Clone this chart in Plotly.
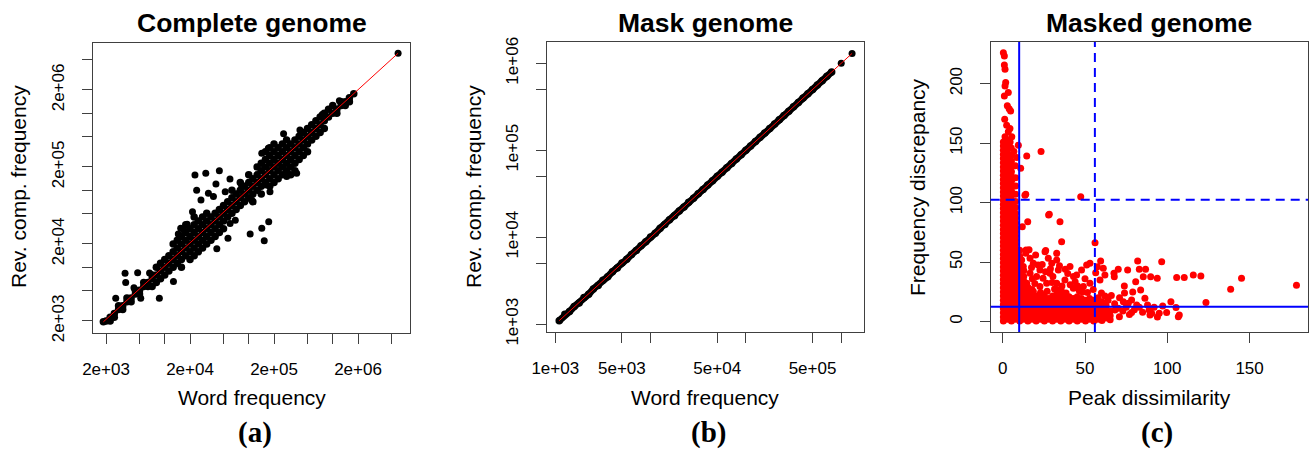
import plotly.graph_objects as go

W, H = 1311, 450

# ---------------- Panel (a): Complete genome (word freq vs rev. comp. freq) ----------------
a_cols_x = [1.86e3, 2.0e3, 2.24e3, 2.51e3, 2.82e3, 3.16e3, 3.55e3, 3.98e3, 4.47e3, 5.01e3, 5.62e3,
            6.31e3, 7.08e3, 7.94e3, 8.91e3,
            1.0e4, 1.12e4, 1.26e4, 1.41e4, 1.58e4, 1.78e4, 2.0e4, 2.24e4, 2.51e4, 2.82e4,
            3.16e4, 3.55e4, 3.98e4, 4.47e4, 5.01e4, 5.62e4, 6.31e4, 7.08e4, 7.94e4, 8.91e4,
            1.0e5, 1.12e5, 1.26e5, 1.41e5, 1.58e5, 1.78e5, 2.0e5, 2.24e5, 2.51e5, 2.82e5,
            3.16e5, 3.55e5, 3.98e5, 4.47e5, 5.01e5, 5.62e5, 6.31e5, 7.08e5, 7.94e5, 8.91e5,
            1.0e6, 1.12e6, 1.26e6, 1.41e6, 1.58e6, 1.78e6]
a_cols_y = [
    [1.95e3], [2.0e3], [2.24e3, 2.0e3], [2.51e3, 2.24e3], [2.82e3, 3.16e3], [3.16e3, 2.82e3],
    [3.55e3, 3.98e3], [3.98e3, 3.55e3], [4.47e3, 5.01e3], [5.01e3, 4.47e3], [5.62e3, 6.31e3],
    [6.31e3, 5.62e3], [5.62e3, 7.08e3, 7.94e3], [6.31e3, 7.94e3, 1.0e4], [7.08e3, 8.91e3, 1.12e4],
    [7.94e3, 1.0e4, 1.26e4], [8.91e3, 1.12e4, 1.41e4], [1.0e4, 1.26e4, 1.58e4, 2.0e4],
    [1.12e4, 1.41e4, 1.78e4, 2.24e4], [1.0e4, 1.26e4, 1.58e4, 2.0e4, 2.51e4],
    [1.41e4, 1.78e4, 2.24e4, 2.82e4, 3.55e4], [1.26e4, 1.58e4, 2.0e4, 2.51e4, 3.16e4],
    [1.41e4, 1.78e4, 2.24e4, 2.82e4, 3.55e4, 4.47e4], [1.58e4, 2.0e4, 2.51e4, 3.16e4, 3.98e4],
    [1.78e4, 2.24e4, 2.82e4, 3.55e4, 4.47e4], [2.0e4, 2.51e4, 3.16e4, 3.98e4, 5.01e4],
    [2.24e4, 2.82e4, 3.55e4, 4.47e4], [2.51e4, 3.16e4, 3.98e4, 5.01e4],
    [2.82e4, 3.55e4, 4.47e4, 5.62e4], [3.16e4, 3.98e4, 5.01e4, 6.31e4],
    [4.47e4, 5.62e4, 7.08e4], [5.01e4, 6.31e4, 7.94e4, 1.0e5], [5.62e4, 7.08e4, 8.91e4],
    [6.31e4, 7.94e4, 1.0e5, 1.26e5], [7.08e4, 8.91e4, 1.12e5],
    [7.94e4, 1.0e5, 1.26e5, 1.58e5], [7.08e4, 8.91e4, 1.12e5, 1.41e5],
    [1.0e5, 1.26e5, 1.58e5, 2.0e5], [8.91e4, 1.12e5, 1.41e5, 1.78e5, 2.24e5],
    [1.26e5, 1.58e5, 2.0e5, 2.51e5, 3.16e5], [1.12e5, 1.41e5, 1.78e5, 2.24e5, 2.82e5, 3.55e5],
    [1.26e5, 1.58e5, 2.0e5, 2.51e5, 3.16e5, 3.98e5], [1.41e5, 1.78e5, 2.24e5, 2.82e5, 3.55e5],
    [1.58e5, 2.0e5, 2.51e5, 3.16e5, 3.98e5], [1.78e5, 2.24e5, 2.82e5, 3.55e5, 4.47e5],
    [1.58e5, 2.0e5, 2.51e5, 3.16e5, 3.98e5], [1.78e5, 2.24e5, 2.82e5, 3.55e5, 4.47e5],
    [2.51e5, 3.16e5, 3.98e5, 5.01e5], [2.82e5, 3.55e5, 4.47e5, 5.62e5],
    [3.16e5, 3.98e5, 5.01e5, 6.31e5], [4.47e5, 5.62e5, 7.08e5], [5.01e5, 6.31e5, 7.94e5],
    [5.62e5, 7.08e5, 8.91e5], [6.31e5, 7.94e5, 1.0e6], [8.91e5, 1.12e6],
    [1.0e6, 1.26e6], [1.12e6, 1.0e6], [1.26e6, 1.41e6], [1.41e6, 1.26e6], [1.58e6, 1.41e6], [1.78e6],
]
a_out_x = [2.61e3, 3.37e3, 3.43e3, 4.76e3, 8.63e3, 1.27e4, 5.18e3, 2.29e4, 3.08e4, 4.47e4, 2.40e4,
           2.70e4, 3.31e4, 4.07e4, 5.25e4, 5.98e4, 3.8e4, 2.14e4, 1.04e5, 1.43e5, 1.53e5, 1.73e5,
           1.08e5, 1.62e5, 4.17e4, 6.92e4, 5.66e4, 1.71e5, 1.43e5, 4.07e5, 2.83e5, 3.72e5, 1.79e5,
           8.2e4, 1.55e4, 1.7e4, 1.45e4, 1.85e4, 6.0e4, 4.3e3, 6.6e3, 2.6e5, 7.5e5, 1.2e6, 6.0e6]
a_out_y = [3.94e3, 8.32e3, 6.3e3, 8.49e3, 3.94e3, 6.49e3, 3.94e3, 1.57e5, 1.66e5, 1.79e5, 1.0e5,
           7.45e4, 9.12e4, 1.2e5, 9.55e4, 1.4e5, 8.3e4, 5.25e4, 2.7e4, 3.2e4, 2.21e4, 3.9e4,
           7.46e4, 1.17e5, 1.74e4, 4.07e4, 2.37e4, 3.5e5, 3.01e5, 6.03e5, 1.5e5, 1.66e5, 9.55e4,
           1.17e5, 3.2e4, 3.0e4, 2.7e4, 3.6e4, 3.7e4, 5.4e3, 8.4e3, 5.4e5, 9.6e5, 1.45e6, 6.0e6]
a_line_x = [1.86e3, 6.0e6]
a_line_y = [1.95e3, 6.0e6]
a_tickvals = [2e3, 5e3, 1e4, 2e4, 5e4, 1e5, 2e5, 5e5, 1e6, 2e6, 5e6]
a_ticktext = ["2e+03", "", "", "2e+04", "", "", "2e+05", "", "", "2e+06", ""]

# ---------------- Panel (b): Mask genome ----------------
b_x = [1.1e3,
       1.26e3, 1.41e3, 1.58e3, 1.78e3, 2.0e3, 2.24e3, 2.51e3, 2.82e3, 3.16e3, 3.55e3, 3.98e3,
       4.47e3, 5.01e3, 5.62e3, 6.31e3, 7.08e3, 7.94e3, 8.91e3,
       1.0e4, 1.12e4, 1.26e4, 1.41e4, 1.58e4, 1.78e4, 2.0e4, 2.24e4, 2.51e4, 2.82e4, 3.16e4,
       3.55e4, 3.98e4, 4.47e4, 5.01e4, 5.62e4, 6.31e4, 7.08e4, 7.94e4, 8.91e4,
       1.0e5, 1.12e5, 1.26e5, 1.41e5, 1.58e5, 1.78e5, 2.0e5, 2.24e5, 2.51e5, 2.82e5, 3.16e5,
       3.55e5, 3.98e5, 4.47e5, 5.01e5, 5.62e5, 6.31e5, 7.08e5, 7.94e5]
b_y = [1.1e3,
       1.3e3, 1.4e3, 1.6e3, 1.76e3, 2.03e3, 2.21e3, 2.55e3, 2.79e3, 3.2e3, 3.52e3, 4.02e3,
       4.43e3, 5.05e3, 5.58e3, 6.35e3, 7.05e3, 7.98e3, 8.87e3,
       1.01e4, 1.11e4, 1.27e4, 1.4e4, 1.59e4, 1.77e4, 2.01e4, 2.23e4, 2.52e4, 2.81e4, 3.17e4,
       3.54e4, 3.99e4, 4.46e4, 5.02e4, 5.61e4, 6.32e4, 7.07e4, 7.95e4, 8.9e4,
       1.0e5, 1.12e5, 1.26e5, 1.41e5, 1.58e5, 1.78e5, 2.0e5, 2.24e5, 2.51e5, 2.82e5, 3.16e5,
       3.55e5, 3.98e5, 4.47e5, 5.01e5, 5.62e5, 6.31e5, 7.08e5, 7.94e5]
b_top_x = [1.0e6, 1.3e6]
b_top_y = [1.0e6, 1.3e6]
b_line = [1.1e3, 1.3e6]
b_tickvals = [1e3, 5e3, 1e4, 5e4, 1e5, 5e5, 1e6]
b_xticktext = ["1e+03", "5e+03", "", "5e+04", "", "5e+05", ""]
b_yticktext = ["1e+03", "", "1e+04", "", "1e+05", "", "1e+06"]

# ---------------- Panel (c): Masked genome ----------------
c_cols_x = [0.4, 2.8, 5.3, 7.8,
            10.3, 12.8, 15.3, 17.8, 20.3, 22.8, 25.3, 27.8, 30.3, 32.8, 35.3, 37.8, 40.3,
            42.8, 45.3, 47.8, 50.3, 52.8, 55.3, 57.8, 60.3, 62.8, 65.3]
c_cols_y = [
    [0.5, 4, 7.5, 11, 14.5, 18, 21.5, 25, 28.5, 32, 35.5, 39, 42.5, 46, 49.5, 53, 56.5, 60, 63.5,
     67, 70.5, 74, 77.5, 81, 84.5, 88, 91.5, 95, 98.5, 102, 105.5, 109, 112.5, 116, 119.5, 123,
     126.5, 130, 133.5, 137, 140.5, 144, 147.5, 151],
    [2, 5.5, 9, 12.5, 16, 19.5, 23, 26.5, 30, 33.5, 37, 40.5, 44, 47.5, 51, 54.5, 58, 61.5, 65,
     68.5, 72, 75.5, 79, 82.5, 86, 89.5, 93, 96.5, 100, 103.5, 107, 110.5, 114, 117.5, 121, 124.5,
     128, 131.5, 135, 138.5, 142, 145.5, 149],
    [0.5, 4, 7.5, 11, 14.5, 18, 21.5, 25, 28.5, 32, 35.5, 39, 42.5, 46, 49.5, 53, 56.5, 60, 63.5,
     67, 70.5, 74, 77.5, 81, 84.5, 88, 91.5, 95, 98.5, 102, 106, 110, 114, 118, 122, 126, 130,
     135, 140],
    [2, 5.5, 9, 12.5, 16, 19.5, 23, 26.5, 30, 33.5, 37, 40.5, 44, 47.5, 51, 54.5, 58, 61.5, 65,
     68.5, 72, 75.5, 79, 83, 87, 91, 96, 101, 107, 114, 121],
    [0.5, 4, 7.5, 11, 14.5, 18, 21.5, 25, 28.5, 32, 35.5, 39, 42.5, 46, 50, 55, 60],
    [2, 5.5, 9, 12.5, 16, 19.5, 23, 26.5, 30, 34, 38, 43],
    [0.5, 4, 7.5, 11, 14.5, 18, 21.5, 25, 29],
    [2, 5.5, 9, 12.5, 16, 19.5, 23, 27],
    [0.5, 4, 7.5, 11, 14.5, 18, 21.5],
    [2, 5.5, 9, 12.5, 16, 19.5, 23],
    [0.5, 4, 7.5, 11, 14.5, 18, 21.5],
    [2, 5.5, 9, 12.5, 16, 19.5],
    [0.5, 4, 7.5, 11, 14.5, 18, 21.5],
    [2, 5.5, 9, 12.5, 16, 19.5, 23],
    [0.5, 4, 7.5, 11, 14.5, 18, 21],
    [2, 5.5, 9, 12.5, 16, 19.5],
    [0.5, 4, 7.5, 11, 14.5, 18, 21],
    [2, 5.5, 9, 12.5, 16, 19.5],
    [0.5, 4, 7.5, 11, 14.5, 18, 21],
    [2, 5.5, 9, 12.5, 16, 19.5],
    [0.5, 4, 7.5, 11, 14.5, 18],
    [2, 5.5, 9, 12.5, 16, 19.5],
    [0.5, 4, 7.5, 11, 14.5, 18],
    [2, 5.5, 9, 12.5, 16],
    [1, 4.5, 8, 11.5, 15],
    [3, 6.5, 10, 13.5],
    [1.5, 5, 9],
]
c_mid_x = [11.5, 12.5, 16.6, 18.6, 25.7, 27.7, 29.8, 32.8, 33.8, 28.7, 22.6, 20.6, 26.7, 16.6,
           14.6, 32.8, 37.8, 44.9, 47.9, 51.0, 53.0, 40.9, 42.9, 49.0, 53.0, 35.8, 22.6, 18.6,
           16.0, 20.0, 24.0, 30.5, 36.0, 39.5, 44.0, 46.5, 51.5, 55.0, 56.5, 19.5, 24.5, 27.0,
           31.5, 38.5, 41.0, 34.5, 29.0, 21.5, 14.0, 17.5, 23.0, 33.0, 45.5, 50.0, 26.0, 38.0,
           43.0, 48.5, 18.0, 30.0]
c_mid_y = [51.8, 46.3, 53.2, 49.1, 58.8, 53.2, 49.1, 51.8, 43.5, 40.7, 43.5, 38.0, 32.3, 40.7,
           32.3, 32.3, 35.1, 39.3, 43.5, 47.7, 49.1, 46.3, 28.1, 29.5, 32.3, 25.3, 29.5, 25.3,
           60.5, 56.0, 48.0, 38.0, 30.0, 40.5, 33.5, 26.0, 24.5, 27.0, 41.0, 32.0, 36.5, 25.5,
           27.5, 24.0, 31.0, 47.0, 44.5, 47.5, 57.5, 45.5, 24.5, 27.0, 30.0, 36.0, 42.0, 44.0,
           38.0, 25.0, 36.0, 33.0]
c_sparse_x = [14.6, 23.3, 10.9, 14.0, 47.4, 27.9, 34.8, 15.2, 11.9, 35.8, 56.1, 14.2, 26.1, 32.8,
              59.5, 82.0, 96.6, 70.2, 75.9, 83.0, 86.8, 93.9, 105.7, 110.3, 115.8, 120.4, 145.1,
              138.5, 178.5, 123.5, 102.2, 97.2, 105.3, 107.3, 106.7, 99.6, 95.1, 90.5, 89.0, 86.4,
              83.8, 80.8, 85.4, 89.9, 73.9, 78.3, 76.3, 73.3, 70.2, 70.9, 68.2, 61.1, 62.1, 64.2,
              60.3, 62.1, 67.6, 67.8, 61.1, 57.5, 62.1, 59.1, 78.3, 81.4, 89.5, 9.5, 13.5, 28.3,
              58.0, 60.0, 64.0, 66.0, 68.0, 71.0, 73.0, 75.0, 77.0, 80.0, 83.0, 85.0, 92.0, 94.0,
              88.0, 74.0, 79.0]
c_sparse_y = [139.2, 142.9, 128.9, 107.0, 105.0, 89.6, 84.0, 84.0, 79.8, 67.2, 66.4, 60.2, 59.7, 57.4,
              51.0, 51.0, 50.4, 44.0, 43.4, 44.0, 44.0, 36.4, 37.0, 37.0, 39.2, 38.4, 36.4,
              27.2, 30.5, 16.0, 16.8, 13.2, 11.8, 5.6, 4.2, 7.6, 7.0, 7.0, 9.8, 19.6,
              26.6, 33.6, 37.8, 37.8, 30.0, 18.2, 15.4, 16.8, 11.2, 4.2, 9.8, 5.6, 14.0, 7.0,
              16.8, 21.6, 40.6, 37.8, 44.8, 46.2, 39.2, 35.0, 7.6, 14.0, 5.6, 148.3, 106.2, 90.2,
              20.0, 24.0, 18.0, 22.0, 15.0, 20.0, 9.0, 12.0, 6.0, 10.0, 12.0, 8.0, 12.0, 4.0,
              14.0, 24.0, 25.0]
c_top_x = [0.4, 1.0, 1.0, 1.4, 1.8, 1.4, 3.4, 1.0, 2.8, 4.8, 3.9, 2.4, 4.4, 3.4, 1.4, 5.5, 2.4,
           4.5, 2.8, 1.2, 5.2, 7.5, 8.5, 6.8]
c_top_y = [226.0, 223.3, 215.7, 212.1, 200.9, 198.0, 192.5, 189.7, 181.4, 177.1, 179.0, 165.0,
           162.3, 159.6, 155.4, 155.4, 152.6, 151.0, 148.3, 170.0, 146.0, 131.0, 138.0, 143.0]
c_vlines_solid = [10.0]
c_vlines_dash = [56.0]
c_hlines_solid = [12.5]
c_hlines_dash = [102.5]
c_xticks = [0, 50, 100, 150]
c_yticks = [0, 50, 100, 150, 200]


def flatten(xs, yss):
    px, py = [], []
    for x, ys in zip(xs, yss):
        for y in ys:
            px.append(x)
            py.append(y)
    return px, py


ax, ay = flatten(a_cols_x, a_cols_y)
cx, cy = flatten(c_cols_x, c_cols_y)
cx += c_mid_x + c_sparse_x + c_top_x
cy += c_mid_y + c_sparse_y + c_top_y

fig = go.Figure()
fig.add_trace(go.Scatter(x=ax, y=ay, mode="markers", xaxis="x", yaxis="y",
                         marker=dict(size=7.5, color="black", line=dict(width=0))))
fig.add_trace(go.Scatter(x=a_out_x, y=a_out_y, mode="markers", xaxis="x", yaxis="y",
                         marker=dict(size=7, color="black", line=dict(width=0))))
fig.add_trace(go.Scatter(x=a_line_x, y=a_line_y, mode="lines", xaxis="x", yaxis="y",
                         line=dict(color="#ff0000", width=1)))
fig.add_trace(go.Scatter(x=b_x, y=b_y, mode="lines+markers", xaxis="x2", yaxis="y2",
                         line=dict(color="black", width=7),
                         marker=dict(size=7.5, color="black", line=dict(width=0))))
fig.add_trace(go.Scatter(x=b_top_x, y=b_top_y, mode="markers", xaxis="x2", yaxis="y2",
                         marker=dict(size=7, color="black", line=dict(width=0))))
fig.add_trace(go.Scatter(x=b_line, y=b_line, mode="lines", xaxis="x2", yaxis="y2",
                         line=dict(color="#ff0000", width=1)))
fig.add_trace(go.Scatter(x=cx, y=cy, mode="markers", xaxis="x3", yaxis="y3",
                         marker=dict(size=7, color="#ff0000", line=dict(width=0))))

BLUE = "#0000ff"
shapes = []
for v in c_vlines_solid + c_vlines_dash:
    shapes.append(dict(type="line", xref="x3", yref="y3 domain", x0=v, x1=v, y0=0, y1=1,
                       line=dict(color=BLUE, width=2,
                                 dash="solid" if v in c_vlines_solid else "9px,6px")))
for h in c_hlines_solid + c_hlines_dash:
    shapes.append(dict(type="line", xref="x3 domain", yref="y3", x0=0, x1=1, y0=h, y1=h,
                       line=dict(color=BLUE, width=2,
                                 dash="solid" if h in c_hlines_solid else "9px,6px")))

FONT = "Liberation Sans, Arial, sans-serif"
AXC = "#404040"
base = dict(showgrid=False, zeroline=False, showline=True, mirror=True, linecolor=AXC,
            linewidth=1, ticks="outside", ticklen=10, tickwidth=1, tickcolor=AXC,
            automargin=False, tickfont=dict(family=FONT, size=17, color="black"))
xbase = dict(base, tickangle=0, ticklabelstandoff=11)
ybase = dict(base, tickangle=-90, ticklabelstandoff=11)


def px_x(p):
    return p / W


def px_y(p):
    return 1 - p / H


fig.update_layout(
    width=W, height=H, margin=dict(l=0, r=0, t=0, b=0, pad=0), autosize=False,
    paper_bgcolor="white", plot_bgcolor="white", showlegend=False,
    xaxis=dict(xbase, domain=[px_x(93), px_x(410)], anchor="y", type="log", range=[3.146, 6.920],
               tickvals=a_tickvals, ticktext=a_ticktext),
    yaxis=dict(ybase, domain=[px_y(333), px_y(43)], anchor="x", type="log", range=[3.145, 6.911],
               tickvals=a_tickvals, ticktext=a_ticktext),
    xaxis2=dict(xbase, domain=[px_x(546.7), px_x(864)], anchor="y2", type="log",
                range=[2.910, 6.239], tickvals=b_tickvals, ticktext=b_xticktext),
    yaxis2=dict(ybase, domain=[px_y(332), px_y(42)], anchor="x2", type="log",
                range=[2.911, 6.245], tickvals=b_tickvals, ticktext=b_yticktext),
    xaxis3=dict(xbase, domain=[px_x(990.7), px_x(1308)], anchor="y3", range=[-7.3, 185.5],
                tickvals=c_xticks, ticktext=[str(v) for v in c_xticks]),
    yaxis3=dict(ybase, domain=[px_y(332), px_y(42)], anchor="x3", range=[-8.7, 235.0],
                tickvals=c_yticks, ticktext=[str(v) for v in c_yticks]),
    shapes=shapes,
)

ann = []


def add_text(text, x, y, size, family=FONT, angle=0):
    ann.append(dict(text=text, x=px_x(x), y=px_y(y), xref="paper", yref="paper",
                    showarrow=False, xanchor="center", yanchor="middle", textangle=angle,
                    font=dict(family=family, size=size, color="black")))


add_text("<b>Complete genome</b>", 251.5, 23, 26.5)
add_text("<b>Mask genome</b>", 705.3, 23, 26.5)
add_text("<b>Masked genome</b>", 1149.3, 23, 26.5)
add_text("Word frequency", 251.5, 397, 21)
add_text("Word frequency", 705.3, 397, 21)
add_text("Peak dissimilarity", 1149.3, 397, 21)
add_text("Rev. comp. frequency", 18, 187, 21, angle=-90)
add_text("Rev. comp. frequency", 473, 187, 21, angle=-90)
add_text("Frequency discrepancy", 917, 187, 21, angle=-90)
SERIF = "Liberation Serif, Times New Roman, serif"
add_text("<b>(a)</b>", 255, 432, 29, family=SERIF)
add_text("<b>(b)</b>", 708, 432, 29, family=SERIF)
add_text("<b>(c)</b>", 1157, 432, 29, family=SERIF)
fig.update_layout(annotations=ann)

fig.write_html("out.html", config={"displayModeBar": False},
               post_script="document.body.style.margin='0px';document.body.style.overflow='hidden';")
